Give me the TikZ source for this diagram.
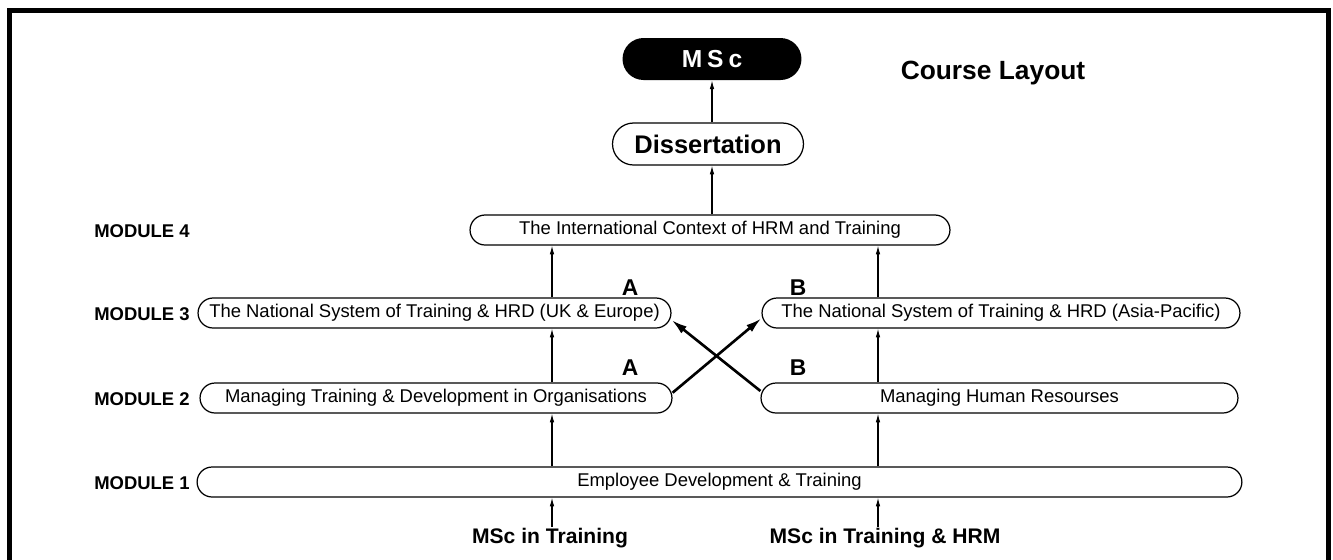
\documentclass[tikz,border=0pt]{standalone}
\usepackage{fontspec}
\setmainfont{Liberation Sans}
\usetikzlibrary{arrows.meta}

\begin{document}
\begin{tikzpicture}[x=0.02cm, y=-0.02cm,
    module/.style={draw, line width=0.7pt, rounded corners=0.3cm, minimum height=0.6cm,
      inner sep=0pt, font=\fontsize{10.5}{12}\selectfont},
    modlabel/.style={anchor=east, inner sep=0pt, font=\bfseries\fontsize{10.5}{12}\selectfont},
    letter/.style={font=\bfseries\fontsize{13}{15}\selectfont},
    track/.style={font=\bfseries\fontsize{12}{14}\selectfont},
    up/.style={-{Latex[length=5pt,width=2.6pt]}, line width=0.6pt},
    cross/.style={-{Latex[length=9pt,width=5pt]}, line width=1.5pt}]
    \useasboundingbox (0,0) rectangle (1333,559);
    \draw[line width=2.8pt] (9.5,570) -- (9.5,10.5) -- (1328.5,10.5) -- (1328.5,570);

    % top of the course
    \node[fill=black, text=white, rounded corners=0.42cm, minimum width=3.58cm, minimum height=0.84cm,
      font=\bfseries\fontsize{14}{16}\selectfont\addfontfeature{LetterSpace=20}] (msc) at (712,59) {MSc};
    \node[draw, line width=0.7pt, rounded corners=0.42cm, minimum width=3.82cm, minimum height=0.84cm,
      font=\bfseries\fontsize{14.5}{17}\selectfont] (diss) at (708,144) {Dissertation};
    \node[font=\bfseries\fontsize{15}{18}\selectfont] (title) at (993,73) {Course Layout};

    % modules
    \node[module, minimum width=9.6cm] (m4) at (710,230) {The International Context of HRM and Training};
    \node[module, minimum width=9.46cm] (m3l) at (434.5,313) {The National System of Training \& HRD (UK \& Europe)};
    \node[module, minimum width=9.56cm] (m3r) at (1001,313) {The National System of Training \& HRD (Asia-Pacific)};
    \node[module, minimum width=9.44cm] (m2l) at (436,398) {Managing Training \& Development in Organisations};
    \node[module, minimum width=9.54cm] (m2r) at (999.5,398) {Managing Human Resourses};
    \node[module, minimum width=20.9cm] (m1) at (719.5,482) {Employee Development \& Training};

    \node[modlabel] (l4) at (190,231) {MODULE 4};
    \node[modlabel] (l3) at (190,314) {MODULE 3};
    \node[modlabel] (l2) at (190,399) {MODULE 2};
    \node[modlabel] (l1) at (190,483) {MODULE 1};

    \node[letter] (a3) at (630,288) {A};
    \node[letter] (a2) at (630,368) {A};
    \node[letter] (b3) at (798,288) {B};
    \node[letter] (b2) at (798,368) {B};

    \node[track] (t1) at (550,538) {MSc in Training};
    \node[track] (t2) at (885,538) {MSc in Training \& HRM};

    % the two routes
    \coordinate (xl) at (552,0);
    \coordinate (xr) at (878,0);
    \draw[up] ([yshift=-3pt]t1.north -| xl) -- (m1.south -| xl);
    \draw[up] ([yshift=-3pt]t2.north -| xr) -- (m1.south -| xr);
    \draw[up] (m1.north -| xl) -- (m2l.south -| xl);
    \draw[up] (m1.north -| xr) -- (m2r.south -| xr);
    \draw[up] (m2l.north -| xl) -- (m3l.south -| xl);
    \draw[up] (m2r.north -| xr) -- (m3r.south -| xr);
    \draw[up] (m3l.north -| xl) -- (m4.south -| xl);
    \draw[up] (m3r.north -| xr) -- (m4.south -| xr);
    \draw[up] (m4.north -| msc) -- (diss.south -| msc);
    \draw[up] (diss.north -| msc) -- (msc.south);
    \draw[cross] ([yshift=3pt]m2l.east) -- ([yshift=-3pt]m3r.west);
    \draw[cross] ([yshift=4pt]m2r.west) -- ([yshift=-4pt]m3l.east);
\end{tikzpicture}
\end{document}
